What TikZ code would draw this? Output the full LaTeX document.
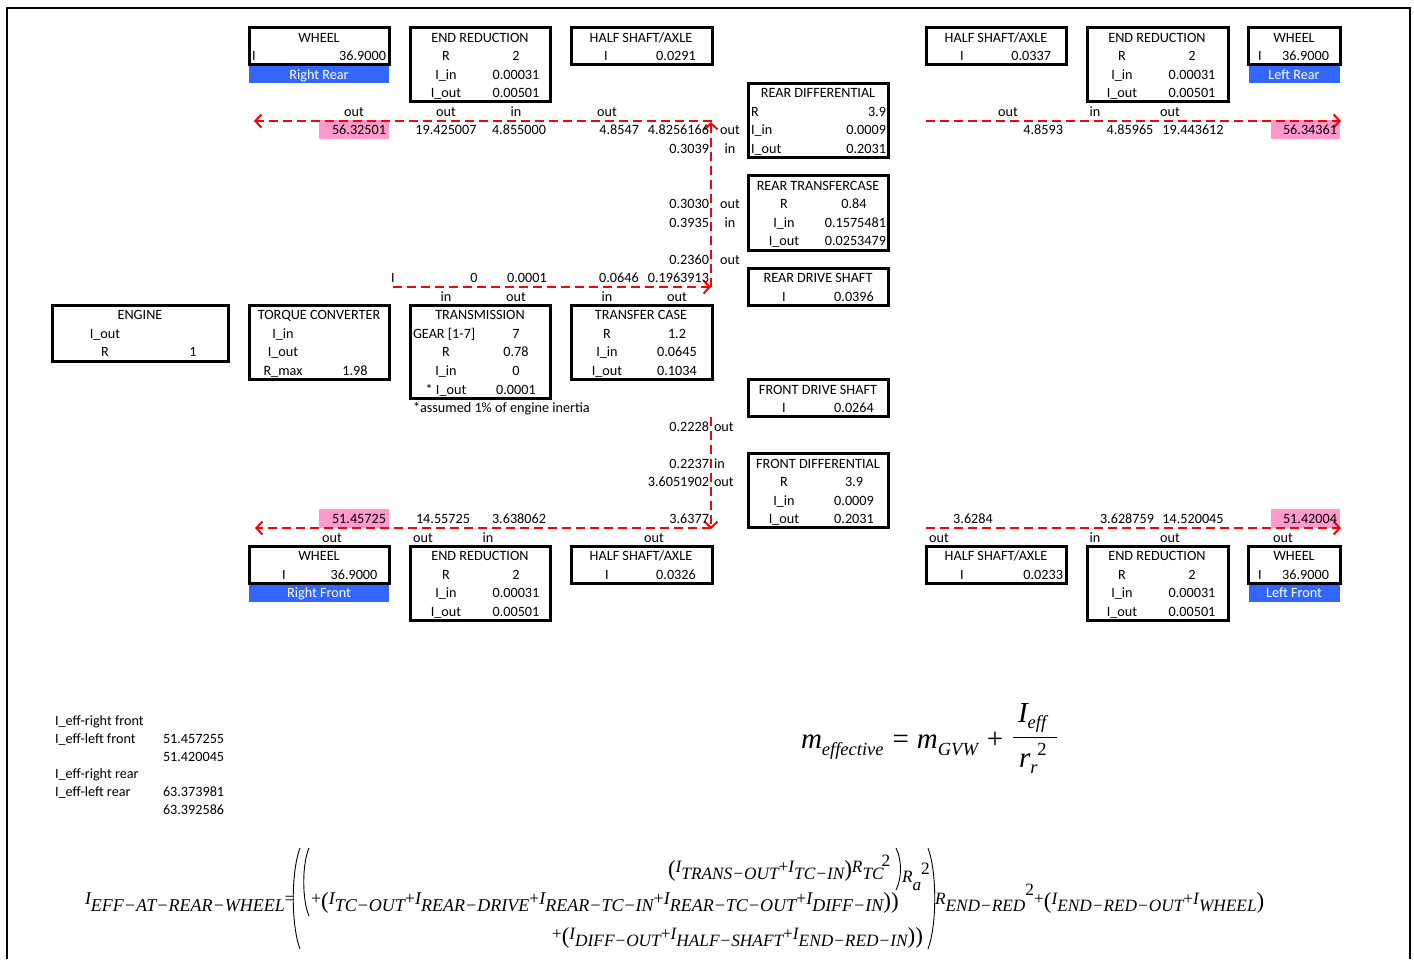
\documentclass[tikz,border=0pt]{standalone}
\usepackage{fontspec}
\setmainfont{Carlito}
\newfontfamily\tms{Liberation Serif}
\usetikzlibrary{arrows.meta}
\definecolor{pinkc}{RGB}{255,153,204}
\definecolor{bluec}{RGB}{51,102,255}
\newcounter{tn}
\newcommand\T[4]{\stepcounter{tn}\node[#1] (t\arabic{tn}) at (#2,#3) {#4};}
\newcommand\bx[5]{\node[box,anchor=north west,minimum width={(#4-#2)*1pt},minimum height={(#5-#3)*1pt}] (#1) at (#2,#3) {};}
\newcommand\Iq[1]{I\raisebox{-7pt}{#1}}
\newcommand\pl{{\upshape+}}
\newcommand\lp{\raisebox{-4pt}{\fontsize{23}{23}\selectfont\upshape(}}
\newcommand\rp{\raisebox{-4pt}{\fontsize{23}{23}\selectfont\upshape)}}
\begin{document}
\begin{tikzpicture}[x=1pt,y=-1pt,
  every node/.style={inner sep=0pt,outer sep=0pt,font=\fontsize{14.2}{16}\selectfont},
  ac/.style={anchor=base},
  al/.style={anchor=base west},
  ar/.style={anchor=base east},
  wt/.style={anchor=base,text=white},
  box/.style={draw,line width=3pt},
  flow/.style={draw=red,line width=2pt,dash pattern=on 9pt off 5pt,-{Straight Barb[length=6pt,width=13pt]}},
  fm/.style={anchor=base west,font=\fontsize{18}{20}\selectfont\tms\itshape},
  fms/.style={anchor=base west,font=\fontsize{17.3}{20}\selectfont\tms\itshape},
  paren/.style={line width=0.9pt}]
\useasboundingbox (0,0) rectangle (1414,959);
\draw[line width=2.5pt] (7,959) -- (7,8) -- (1410,8) -- (1410,959);

% fills
\fill[bluec] (249,64.8) rectangle (389,83.3);
\fill[bluec] (1249,64.8) rectangle (1340,83.3);
\fill[bluec] (249,583.4) rectangle (389,601.9);
\fill[bluec] (1249,583.4) rectangle (1340,601.9);
\fill[pinkc] (319,120.1) rectangle (389,138.6);
\fill[pinkc] (1271,120.1) rectangle (1340,138.6);
\fill[pinkc] (319,509.3) rectangle (389,527.8);
\fill[pinkc] (1271,509.3) rectangle (1340,527.8);

% boxes
\bx{rrwheel}{249}{27.7}{389}{64.8}
\bx{rrend}{410}{27.7}{550}{101.8}
\bx{rrhalf}{571}{27.7}{712}{64.8}
\bx{rdiff}{748}{83.3}{888}{157.4}
\bx{lrhalf}{926}{27.7}{1066}{64.8}
\bx{lrend}{1087}{27.7}{1228}{101.8}
\bx{lrwheel}{1248}{27.7}{1340}{64.8}
\bx{rtc}{748}{175.9}{888}{250.0}
\bx{rds}{748}{268.5}{888}{305.5}
\bx{engine}{52}{305.5}{228}{361.1}
\bx{tconv}{249}{305.5}{389}{379.6}
\bx{trans}{410}{305.5}{550}{398.1}
\bx{tcase}{571}{305.5}{712}{379.6}
\bx{fds}{748}{379.6}{888}{416.7}
\bx{fdiff}{748}{453.7}{888}{527.8}
\bx{rfwheel}{249}{546.3}{389}{583.4}
\bx{rfend}{410}{546.3}{550}{620.4}
\bx{rfhalf}{571}{546.3}{712}{583.4}
\bx{lfhalf}{926}{546.3}{1066}{583.4}
\bx{lfend}{1087}{546.3}{1228}{620.4}
\bx{lfwheel}{1248}{546.3}{1340}{583.4}

% flow coordinates
\coordinate (f0) at (393,287);
\coordinate (f1) at (711,287);
\coordinate (f2) at (711,122);
\coordinate (f3) at (712,121);
\coordinate (f4) at (254,121);
\coordinate (f5) at (926,121);
\coordinate (f6) at (1341,121);
\coordinate (g0) at (711,417);
\coordinate (g1) at (711,529);
\coordinate (g2) at (711,528);
\coordinate (g3) at (255,528);
\coordinate (g4) at (926,528);
\coordinate (g5) at (1341,528);
\draw[flow] (f0) -- (f1);
\draw[flow] (f1) -- (f2);
\draw[flow] (f3) -- (f4);
\draw[flow] (f5) -- (f6);
\draw[flow] (g0) -- (g1);
\draw[flow] (g2) -- (g3);
\draw[flow] (g4) -- (g5);

% top-left group
\T{ac}{319}{42}{WHEEL}
\T{al}{252}{60.5}{I}
\T{ar}{386}{60.5}{36.9000}
\T{wt}{319}{79}{Right Rear}
\T{ac}{480}{42}{END REDUCTION}
\T{ac}{446}{60.5}{R}
\T{ac}{516}{60.5}{2}
\T{ac}{446}{79}{I\_in}
\T{ac}{516}{79}{0.00031}
\T{ac}{446}{97.6}{I\_out}
\T{ac}{516}{97.6}{0.00501}
\T{ac}{641}{42}{HALF SHAFT/AXLE}
\T{ac}{606}{60.5}{I}
\T{ac}{676}{60.5}{0.0291}
\T{ac}{354}{116}{out}
\T{ac}{446}{116}{out}
\T{ac}{516}{116}{in}
\T{ac}{607}{116}{out}
\T{ar}{386}{134.6}{56.32501}
\T{ac}{446}{134.6}{19.425007}
\T{ac}{519}{134.6}{4.855000}
\T{ar}{639}{134.6}{4.8547}
\T{ar}{709}{134.6}{4.8256166}
\T{ar}{709}{153}{0.3039}
\T{ac}{730}{134.6}{out}
\T{ac}{730}{153}{in}

% rear differential
\T{ac}{818}{97.6}{REAR DIFFERENTIAL}
\T{al}{751}{116}{R}
\T{ar}{886}{116}{3.9}
\T{al}{751}{134.6}{I\_in}
\T{ar}{886}{134.6}{0.0009}
\T{al}{751}{153}{I\_out}
\T{ar}{886}{153}{0.2031}

% top-right group
\T{ac}{996}{42}{HALF SHAFT/AXLE}
\T{ac}{962}{60.5}{I}
\T{ar}{1051}{60.5}{0.0337}
\T{ac}{1157}{42}{END REDUCTION}
\T{ac}{1122}{60.5}{R}
\T{ac}{1192}{60.5}{2}
\T{ac}{1122}{79}{I\_in}
\T{ac}{1192}{79}{0.00031}
\T{ac}{1122}{97.6}{I\_out}
\T{ac}{1192}{97.6}{0.00501}
\T{ac}{1294}{42}{WHEEL}
\T{al}{1258}{60.5}{I}
\T{ar}{1329}{60.5}{36.9000}
\T{wt}{1294}{79}{Left Rear}
\T{ac}{1008}{116}{out}
\T{ac}{1095}{116}{in}
\T{ac}{1170}{116}{out}
\T{ar}{1063}{134.6}{4.8593}
\T{ac}{1130}{134.6}{4.85965}
\T{ac}{1193}{134.6}{19.443612}
\T{ar}{1337}{134.6}{56.34361}

% rear transfercase
\T{ac}{818}{190}{REAR TRANSFERCASE}
\T{ac}{784}{208.7}{R}
\T{ac}{854}{208.7}{0.84}
\T{ac}{784}{227}{I\_in}
\T{ar}{886}{227}{0.1575481}
\T{ac}{784}{245.7}{I\_out}
\T{ar}{886}{245.7}{0.0253479}
\T{ar}{709}{208.7}{0.3030}
\T{ac}{730}{208.7}{out}
\T{ar}{709}{227}{0.3935}
\T{ac}{730}{227}{in}
\T{ar}{709}{264}{0.2360}
\T{ac}{730}{264}{out}

% row 13/14
\T{ac}{393}{282.8}{I}
\T{ac}{474}{282.8}{0}
\T{ac}{527}{282.8}{0.0001}
\T{ac}{619}{282.8}{0.0646}
\T{ar}{709}{282.8}{0.1963913}
\T{ac}{818}{282.8}{REAR DRIVE SHAFT}
\T{ac}{784}{301}{I}
\T{ac}{854}{301}{0.0396}
\T{ac}{446}{301}{in}
\T{ac}{516}{301}{out}
\T{ac}{607}{301}{in}
\T{ac}{677}{301}{out}

% engine row
\T{ac}{140}{319.8}{ENGINE}
\T{ac}{105}{338}{I\_out}
\T{ac}{105}{356.8}{R}
\T{ac}{193}{356.8}{1}
\T{ac}{319}{319.8}{TORQUE CONVERTER}
\T{ac}{283}{338}{I\_in}
\T{ac}{283}{356.8}{I\_out}
\T{ac}{283}{375}{R\_max}
\T{ac}{355}{375}{1.98}
\T{ac}{480}{319.8}{TRANSMISSION}
\T{al}{413}{338}{GEAR [1-7]}
\T{ac}{516}{338}{7}
\T{ac}{446}{356.8}{R}
\T{ac}{516}{356.8}{0.78}
\T{ac}{446}{375}{I\_in}
\T{ac}{516}{375}{0}
\T{ac}{446}{394}{* I\_out}
\T{ac}{516}{394}{0.0001}
\T{al}{413}{412}{*assumed 1\% of engine inertia}
\T{ac}{641}{319.8}{TRANSFER CASE}
\T{ac}{607}{338}{R}
\T{ac}{677}{338}{1.2}
\T{ac}{607}{356.8}{I\_in}
\T{ac}{677}{356.8}{0.0645}
\T{ac}{607}{375}{I\_out}
\T{ac}{677}{375}{0.1034}

% front drive shaft / differential
\T{ac}{818}{394}{FRONT DRIVE SHAFT}
\T{ac}{784}{412}{I}
\T{ac}{854}{412}{0.0264}
\T{ar}{709}{431}{0.2228}
\T{al}{714}{431}{out}
\T{ar}{709}{468}{0.2237}
\T{al}{714}{468}{in}
\T{ar}{709}{486.5}{3.6051902}
\T{al}{714}{486.5}{out}
\T{ac}{818}{468}{FRONT DIFFERENTIAL}
\T{ac}{784}{486.5}{R}
\T{ac}{854}{486.5}{3.9}
\T{ac}{784}{505}{I\_in}
\T{ac}{854}{505}{0.0009}
\T{ac}{784}{523.5}{I\_out}
\T{ac}{854}{523.5}{0.2031}

% bottom value rows
\T{ar}{386}{523.5}{51.45725}
\T{ar}{470}{523.5}{14.55725}
\T{ac}{519}{523.5}{3.638062}
\T{ar}{709}{523.5}{3.6377}
\T{ac}{332}{542}{out}
\T{ac}{423}{542}{out}
\T{ac}{488}{542}{in}
\T{ac}{654}{542}{out}
\T{ac}{973}{523.5}{3.6284}
\T{ac}{1127}{523.5}{3.628759}
\T{ac}{1193}{523.5}{14.520045}
\T{ar}{1337}{523.5}{51.42004}
\T{ac}{939}{542}{out}
\T{ac}{1095}{542}{in}
\T{ac}{1170}{542}{out}
\T{ac}{1283}{542}{out}

% bottom boxes text
\T{ac}{319}{560.6}{WHEEL}
\T{ac}{284}{579}{I}
\T{ac}{354}{579}{36.9000}
\T{wt}{319}{597.6}{Right Front}
\T{ac}{480}{560.6}{END REDUCTION}
\T{ac}{446}{579}{R}
\T{ac}{516}{579}{2}
\T{ac}{446}{597.6}{I\_in}
\T{ac}{516}{597.6}{0.00031}
\T{ac}{446}{616}{I\_out}
\T{ac}{516}{616}{0.00501}
\T{ac}{641}{560.6}{HALF SHAFT/AXLE}
\T{ac}{607}{579}{I}
\T{ac}{676}{579}{0.0326}
\T{ac}{996}{560.6}{HALF SHAFT/AXLE}
\T{ac}{962}{579}{I}
\T{ar}{1063}{579}{0.0233}
\T{ac}{1157}{560.6}{END REDUCTION}
\T{ac}{1122}{579}{R}
\T{ac}{1192}{579}{2}
\T{ac}{1122}{597.6}{I\_in}
\T{ac}{1192}{597.6}{0.00031}
\T{ac}{1122}{616}{I\_out}
\T{ac}{1192}{616}{0.00501}
\T{ac}{1294}{560.6}{WHEEL}
\T{al}{1258}{579}{I}
\T{ar}{1329}{579}{36.9000}
\T{wt}{1294}{597.6}{Left Front}

% I_eff list
\T{al}{55}{725}{I\_eff-right front}
\T{al}{55}{743}{I\_eff-left front}
\T{al}{163}{743}{51.457255}
\T{al}{163}{761}{51.420045}
\T{al}{55}{778}{I\_eff-right rear}
\T{al}{55}{796}{I\_eff-left rear}
\T{al}{163}{796}{63.373981}
\T{al}{163}{814}{63.392586}

% m_effective formula
\node[anchor=base west,font=\fontsize{29}{30}\selectfont\tms\itshape] (meq) at (801,748)
  {m\raisebox{-7pt}{\fontsize{18.5}{20}\selectfont effective}\hspace{9pt}\upshape=\hspace{8pt}\itshape m\raisebox{-7pt}{\fontsize{18.5}{20}\selectfont GVW}\hspace{9pt}\upshape+};
\coordinate (fb0) at (1013,737);
\coordinate (fb1) at (1057,737);
\draw[line width=1pt] (fb0) -- (fb1);
\node[anchor=base west,font=\fontsize{29}{30}\selectfont\tms\itshape] (num) at (1018,722)
  {I\raisebox{-6pt}{\fontsize{18.5}{20}\selectfont eff}};
\node[anchor=base west,font=\fontsize{29}{30}\selectfont\tms\itshape] (den) at (1019,767)
  {r\raisebox{-6pt}{\fontsize{18.5}{20}\selectfont r}\raisebox{12pt}{\fontsize{18.5}{20}\selectfont\upshape 2}};

% big formula
\node[fm] (fA) at (85,904) {\Iq{EFF−AT−REAR−WHEEL}\upshape=};
\node[fm] (fB) at (311,904) {\pl\lp\Iq{TC−OUT}\pl\Iq{REAR−DRIVE}\pl\Iq{REAR−TC−IN}\pl\Iq{REAR−TC−OUT}\pl\Iq{DIFF−IN}\rp\rp};
\node[fms] (fC) at (668,872) {\lp\Iq{TRANS−OUT}\pl\Iq{TC−IN}\rp R\raisebox{-7pt}{TC}\kern-2pt\raisebox{6pt}{\upshape 2}};
\node[fms] (fD) at (902,882) {R\raisebox{-8pt}{a}\raisebox{8pt}{\upshape 2}};
\node[fms] (fE) at (935,904) {R\raisebox{-7pt}{END−RED}\raisebox{9pt}{\upshape 2}\pl\lp\Iq{END−RED−OUT}\pl\Iq{WHEEL}\rp};
\node[fms] (fF) at (552,939) {\pl\lp\Iq{DIFF−OUT}\pl\Iq{HALF−SHAFT}\pl\Iq{END−RED−IN}\rp\rp};
\coordinate (pa0) at (300,848); \coordinate (pa1) at (300,949);
\draw[paren] (pa0) .. controls (291,872) and (291,925) .. (pa1);
\coordinate (pb0) at (309,848); \coordinate (pb1) at (309,916);
\draw[paren] (pb0) .. controls (302,864) and (302,900) .. (pb1);
\coordinate (pc0) at (896,848); \coordinate (pc1) at (896,890);
\draw[paren] (pc0) .. controls (902,860) and (902,878) .. (pc1);
\coordinate (pd0) at (928,848); \coordinate (pd1) at (928,949);
\draw[paren] (pd0) .. controls (937,872) and (937,925) .. (pd1);
\end{tikzpicture}
\end{document}
